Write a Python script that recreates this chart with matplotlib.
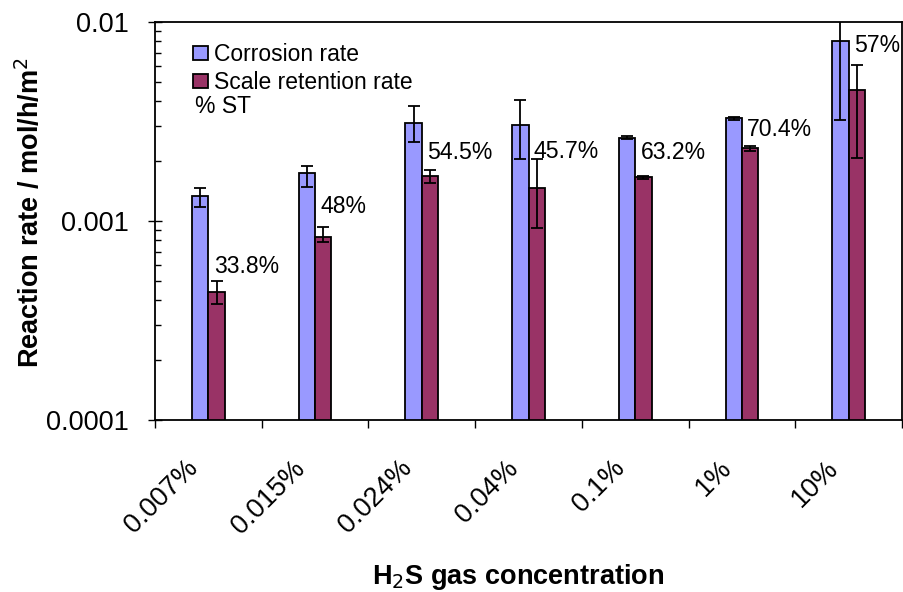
import numpy as np
import matplotlib
matplotlib.use("Agg")
import matplotlib.pyplot as plt
from matplotlib.patches import Patch
from matplotlib.ticker import FixedLocator, NullFormatter, LogLocator
from matplotlib.transforms import ScaledTranslation

plt.rcParams["font.family"] = ["Liberation Sans", "DejaVu Sans"]

# ── data ────────────────────────────────────────────────────────────────────
categories = ["0.007%", "0.015%", "0.024%", "0.04%", "0.1%", "1%", "10%"]

corrosion        = [1.33e-3, 1.74e-3, 3.10e-3, 3.04e-3, 2.62e-3, 3.28e-3, 8.03e-3]
corrosion_err_lo = [0.16e-3, 0.25e-3, 0.60e-3, 1.00e-3, 0.05e-3, 0.06e-3, 4.80e-3]
corrosion_err_hi = [0.14e-3, 0.15e-3, 0.70e-3, 1.01e-3, 0.05e-3, 0.06e-3, 4.80e-3]

retention        = [4.41e-4, 8.34e-4, 1.69e-3, 1.46e-3, 1.66e-3, 2.32e-3, 4.54e-3]
retention_err_lo = [0.60e-4, 0.47e-4, 0.13e-3, 0.54e-3, 0.03e-3, 0.06e-3, 2.46e-3]
retention_err_hi = [0.58e-4, 0.96e-4, 0.11e-3, 0.58e-3, 0.03e-3, 0.06e-3, 1.54e-3]

st_labels = ["33.8%", "48%", "54.5%", "45.7%", "63.2%", "70.4%", "57%"]
st_label_y = [5.89e-4, 1.18e-3, 2.22e-3, 2.23e-3, 2.22e-3, 2.87e-3, 7.66e-3]

BLUE = "#9999FF"
MAROON = "#993366"

# ── figure ─────────────────────────────────────────────────────────────────
fig = plt.figure(figsize=(9.04, 5.92), dpi=100)
ax = fig.add_axes([155 / 904, 1 - 420 / 592, 747 / 904, 398 / 592])

x = np.arange(len(categories))
w = 0.153

err_kw = dict(ecolor="black", elinewidth=1.3, capsize=4.3, capthick=1.3)
ax.bar(x - w / 2, corrosion, w, color=BLUE, edgecolor="black", linewidth=1.3,
       yerr=[corrosion_err_lo, corrosion_err_hi], error_kw=err_kw,
       label="Corrosion rate", zorder=2)
ax.bar(x + w / 2, retention, w, color=MAROON, edgecolor="black", linewidth=1.3,
       yerr=[retention_err_lo, retention_err_hi], error_kw=err_kw,
       label="Scale retention rate", zorder=2)

for xi, lab, yl in zip(x, st_labels, st_label_y):
    ax.text(xi + 0.05, yl, lab, ha="left", va="center", fontsize=16.6, zorder=3)

ax.set_yscale("log")
ax.set_ylim(1e-4, 1e-2)
ax.set_xlim(-0.5, len(categories) - 0.5)

ax.yaxis.set_major_locator(FixedLocator([1e-4, 1e-3, 1e-2]))
ax.set_yticklabels(["0.0001", "0.001", "0.01"])
ax.yaxis.set_minor_locator(LogLocator(base=10, subs=np.arange(2, 10)))
ax.yaxis.set_minor_formatter(NullFormatter())
ax.tick_params(axis="y", which="major", direction="inout", length=9.5,
               width=1.0, labelsize=19.5, pad=14)
ax.tick_params(axis="y", which="minor", direction="in", length=4.5, width=1.0)

# category labels at centres, tick marks at boundaries
ax.set_xticks(x)
ax.set_xticklabels(categories, rotation=45, ha="right", va="center",
                   rotation_mode="anchor", fontsize=19.5)
ax.xaxis.set_minor_locator(FixedLocator(np.arange(-0.5, len(categories), 1.0)))
ax.tick_params(axis="x", which="major", length=0, pad=32)
ax.tick_params(axis="x", which="minor", direction="out", length=6, width=1.0)
shift = ScaledTranslation(-14 / 100, 0, fig.dpi_scale_trans)
for lbl in ax.get_xticklabels():
    lbl.set_transform(lbl.get_transform() + shift)

for s in ax.spines.values():
    s.set_linewidth(1.3)

ax.set_ylabel("Reaction rate / mol/h/m$^2$", fontsize=19.5, fontweight="bold")
ax.yaxis.set_label_coords(-0.147, 0.52)
ax.set_xlabel("H$_2$S gas concentration", fontsize=19.5, fontweight="bold")
ax.xaxis.set_label_coords(0.4866, -0.357)

handles = [Patch(facecolor=BLUE, edgecolor="black", linewidth=1.3),
           Patch(facecolor=MAROON, edgecolor="black", linewidth=1.3)]
ax.legend(handles, ["Corrosion rate", "Scale retention rate"], loc="upper left",
          bbox_to_anchor=(0.051, 0.947), frameon=False, fontsize=16.5,
          handlelength=0.63, handleheight=0.6, handletextpad=0.3,
          labelspacing=0.22, borderpad=0, borderaxespad=0)
ax.text(0.0535, 0.788, "% ST", transform=ax.transAxes, ha="left", va="center",
        fontsize=16.5)

fig.savefig("out.png", dpi=100)
